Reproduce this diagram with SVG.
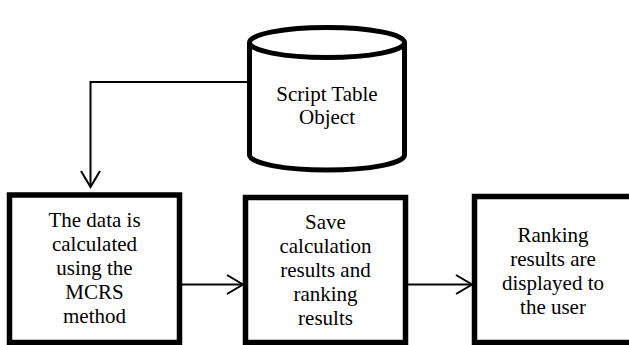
<svg xmlns="http://www.w3.org/2000/svg" width="629" height="345" viewBox="0 0 629 345">
<style>
.box{fill:#fff;stroke:#000;stroke-width:5.5}
.cyl{fill:#fff;stroke:#000;stroke-width:5;stroke-linejoin:round}
.lbl{font-family:'Liberation Serif','Times New Roman',serif;font-size:21px;fill:#000;text-anchor:middle}
.conn{fill:none;stroke:#000;stroke-width:2}
</style>
<defs>
<marker id="arr" markerUnits="userSpaceOnUse" markerWidth="20" markerHeight="22" refX="17" refY="10" orient="auto" overflow="visible">
<path d="M1,0.5 L17,10 L1,19.5" fill="none" stroke="#000" stroke-width="2"/>
</marker>
</defs>
<rect width="629" height="345" fill="#fff"/>
<g id="connectors">
<path class="conn" d="M247,82 H90.5 V187" marker-end="url(#arr)"/>
<path class="conn" d="M182,284.5 H243" marker-end="url(#arr)"/>
<path class="conn" d="M408,284.5 H472" marker-end="url(#arr)"/>
</g>
<g id="script-table">
<path class="cyl" d="M249.5,42.5 L249.5,155 A77.5,15 0 0,0 404.5,155 L404.5,42.5"/>
<ellipse class="cyl" cx="327" cy="42.5" rx="77.5" ry="15"/>
<text class="lbl" x="327" y="101">Script Table</text>
<text class="lbl" x="327" y="124">Object</text>
</g>
<g id="calc">
<rect class="box" x="9.5" y="195" width="170" height="147.5"/>
<text class="lbl" x="94.5" y="227">The data is</text>
<text class="lbl" x="94.5" y="251">calculated</text>
<text class="lbl" x="94.5" y="275">using the</text>
<text class="lbl" x="94.5" y="299">MCRS</text>
<text class="lbl" x="94.5" y="323">method</text>
</g>
<g id="save">
<rect class="box" x="245.5" y="197.5" width="160" height="145"/>
<text class="lbl" x="325.5" y="229">Save</text>
<text class="lbl" x="325.5" y="253">calculation</text>
<text class="lbl" x="325.5" y="277">results and</text>
<text class="lbl" x="325.5" y="301">ranking</text>
<text class="lbl" x="325.5" y="325">results</text>
</g>
<g id="display">
<rect class="box" x="474.5" y="196.5" width="159" height="146"/>
<text class="lbl" x="553" y="242">Ranking</text>
<text class="lbl" x="553" y="266">results are</text>
<text class="lbl" x="553" y="290">displayed to</text>
<text class="lbl" x="553" y="314">the user</text>
</g>
</svg>
